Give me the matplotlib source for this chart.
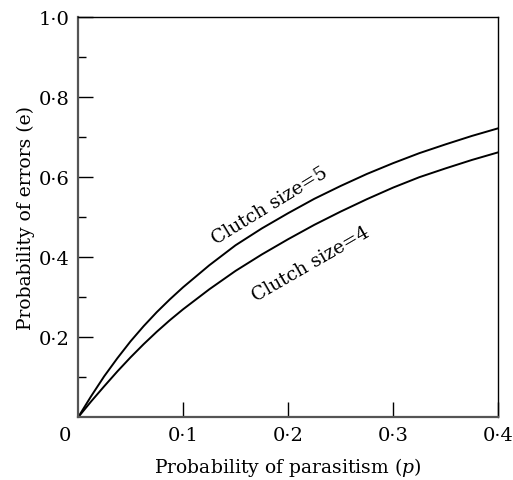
import matplotlib.pyplot as plt
from matplotlib.ticker import FixedLocator

# values
p_values = [0.0, 0.0125, 0.025, 0.0375, 0.05, 0.0625, 0.075, 0.0875, 0.1,
            0.125, 0.15, 0.175, 0.2, 0.225, 0.25, 0.275, 0.3, 0.325, 0.35,
            0.375, 0.4]
err_clutch5 = [0.0, 0.053, 0.103, 0.148, 0.19, 0.228, 0.263, 0.295, 0.325,
               0.38, 0.43, 0.472, 0.51, 0.546, 0.578, 0.608, 0.635, 0.66,
               0.682, 0.703, 0.722]
err_clutch4 = [0.0, 0.04, 0.078, 0.115, 0.15, 0.183, 0.214, 0.243, 0.27,
               0.32, 0.366, 0.407, 0.445, 0.481, 0.514, 0.545, 0.574, 0.6,
               0.622, 0.643, 0.662]

x_ticks = [0.1, 0.2, 0.3, 0.4]
x_labels = ["0·1", "0·2", "0·3", "0·4"]
y_ticks = [0.2, 0.4, 0.6, 0.8, 1.0]
y_labels = ["0·2", "0·4", "0·6", "0·8", "1·0"]
y_minor = [0.1, 0.3, 0.5, 0.7, 0.9]

plt.rcParams["font.family"] = ["DejaVu Serif"]
plt.rcParams["mathtext.fontset"] = "dejavuserif"

fig = plt.figure(figsize=(5.13, 4.81), dpi=100)
ax = fig.add_axes([0.152, 0.130, 0.819, 0.8326])

ax.plot(p_values, err_clutch5, color="black", lw=1.4)
ax.plot(p_values, err_clutch4, color="black", lw=1.4)

ax.set_xlim(0, 0.4)
ax.set_ylim(0, 1.0)

ax.set_xticks(x_ticks)
ax.set_xticklabels(x_labels)
ax.set_yticks(y_ticks)
ax.set_yticklabels(y_labels)
ax.yaxis.set_minor_locator(FixedLocator(y_minor))
ax.tick_params(axis="both", which="major", direction="in", length=10.5,
               width=1.0, labelsize=14, pad=6)
ax.tick_params(axis="y", which="minor", direction="in", length=5.5, width=1.0)

for side in ("left", "bottom"):
    ax.spines[side].set_color("#555555")
    ax.spines[side].set_linewidth(1.6)
for side in ("top", "right"):
    ax.spines[side].set_color("black")
    ax.spines[side].set_linewidth(1.0)

ax.text(-0.012, -0.022, "0", fontsize=14, ha="center", va="top")

ax.set_xlabel("Probability of parasitism ($\\it{p}$)", fontsize=13.5, labelpad=8)
ax.set_ylabel("Probability of errors (e)", fontsize=13.5, labelpad=3)

ax.text(0.183, 0.53, "Clutch size=5", fontsize=13.5, rotation=31.5,
        ha="center", va="center", rotation_mode="anchor")
ax.text(0.222, 0.385, "Clutch size=4", fontsize=13.5, rotation=30,
        ha="center", va="center", rotation_mode="anchor")

fig.savefig("out.png", dpi=100)
